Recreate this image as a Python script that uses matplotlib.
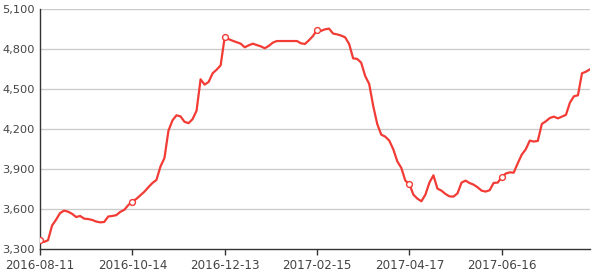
import matplotlib
matplotlib.use("Agg")
import matplotlib.pyplot as plt
import numpy as np

values = [
    3367, 3355, 3368, 3478, 3522, 3572, 3590, 3582, 3566, 3542,
    3550, 3530, 3527, 3520, 3508, 3502, 3505, 3546, 3550, 3556,
    3581, 3596, 3632, 3657, 3678, 3705, 3732, 3766, 3797, 3820,
    3920, 3985, 4190, 4267, 4305, 4297, 4256, 4246, 4276, 4340,
    4575, 4535, 4555, 4620, 4647, 4680, 4890, 4876, 4864, 4853,
    4842, 4815, 4830, 4842, 4832, 4822, 4808, 4826, 4850, 4862,
    4862, 4862, 4862, 4862, 4862, 4845, 4840, 4868, 4900, 4945,
    4938, 4950, 4955, 4918, 4912, 4903, 4890, 4840, 4732, 4728,
    4700, 4600, 4540, 4375, 4240, 4160, 4145, 4115, 4050, 3960,
    3910, 3815, 3790, 3710, 3680, 3660, 3710, 3800, 3855, 3755,
    3740, 3715, 3697, 3695, 3720, 3800, 3815, 3797, 3785, 3765,
    3740, 3733, 3743, 3798, 3800, 3840, 3868, 3877, 3875, 3945,
    4010, 4050, 4115, 4108, 4113, 4240, 4260, 4285, 4295, 4282,
    4295, 4308, 4400, 4448, 4455, 4620, 4632, 4650,
]
tick_labels = ["2016-08-11", "2016-10-14", "2016-12-13", "2017-02-15", "2017-04-17", "2017-06-16"]
tick_positions = [0, 23, 46, 69, 92, 115]
y_ticks = [3300, 3600, 3900, 4200, 4500, 4800, 5100]
y_labels = ["3,300", "3,600", "3,900", "4,200", "4,500", "4,800", "5,100"]

line_color = "#f23b35"
text_color = "#444444"

fig = plt.figure(figsize=(5.92, 2.74), dpi=100)
ax = fig.add_axes([40/592, (274-249.3)/274, 550/592, 240/274])

x = np.arange(len(values))
ax.plot(x, values, color=line_color, lw=1.6, solid_joinstyle="round", zorder=3)
mk = [values[i] for i in tick_positions]
ax.plot(tick_positions, mk, ls="none", marker="o", ms=4.2, mfc="white",
        mec=line_color, mew=1.0, zorder=4)

ax.set_xlim(0, len(values) - 1)
ax.set_ylim(3300, 5100)
ax.set_yticks(y_ticks)
ax.set_yticklabels(y_labels)
ax.set_xticks(tick_positions)
ax.set_xticklabels(tick_labels)

for v in y_ticks[1:]:
    ax.axhline(v, color="#cccccc", lw=1.0, zorder=1)

for s in ["top", "right"]:
    ax.spines[s].set_visible(False)
for s in ["left", "bottom"]:
    ax.spines[s].set_color("#333333")
    ax.spines[s].set_linewidth(1.0)

ax.tick_params(axis="y", length=0, pad=3.5, labelsize=8.2, labelcolor=text_color)
ax.tick_params(axis="x", length=4, width=1, color="#333333", pad=3,
               labelsize=8.6, labelcolor=text_color)
ax.set_facecolor("white")

fig.savefig("out.png", dpi=100)
